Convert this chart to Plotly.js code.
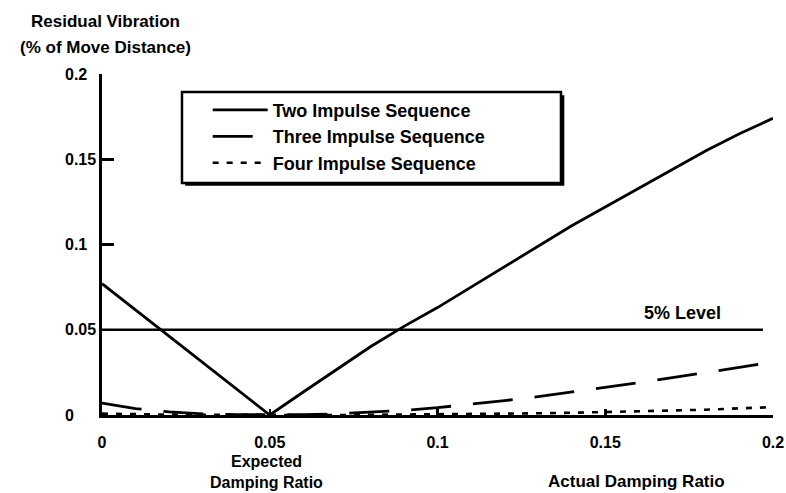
<!DOCTYPE html>
<html>
<head>
<meta charset="utf-8">
<script src="https://cdn.plot.ly/plotly-3.0.1.min.js"></script>
<style>
  html, body { margin: 0; padding: 0; background: #fff; }
  #chart { width: 786px; height: 493px; }
</style>
</head>
<body>
<div id="chart"></div>
<script>
// Actual damping ratio samples (x axis)
const dampingRatio = [0, 0.01, 0.02, 0.03, 0.04, 0.05, 0.06, 0.07, 0.08, 0.09, 0.10,
                      0.11, 0.12, 0.13, 0.14, 0.15, 0.16, 0.17, 0.18, 0.19, 0.20];

// Residual vibration (% of move distance) for each impulse sequence
const twoImpulse   = [0.077, 0.0616, 0.0462, 0.0308, 0.0154, 0, 0.0135, 0.027, 0.040, 0.052, 0.063,
                      0.075, 0.087, 0.099, 0.111, 0.122, 0.133, 0.144, 0.155, 0.165, 0.174];
const threeImpulse = [0.007, 0.0038, 0.0018, 0.0007, 0.0002, 0, 0.0002, 0.0007, 0.0015, 0.0027, 0.0043,
                      0.0062, 0.0084, 0.0108, 0.0134, 0.0161, 0.019, 0.0219, 0.0249, 0.028, 0.031];
const fourImpulse  = [0.0008, 0.0004, 0.0002, 0.0001, 0, 0, 0, 0, 0.0001, 0.0002, 0.0003,
                      0.0005, 0.0007, 0.001, 0.0013, 0.0017, 0.0021, 0.0026, 0.0031, 0.0039, 0.0046];

// 5% reference level
const levelX = [0, 0.197];
const levelY = [0.05, 0.05];

const seriesNames = ['Two Impulse Sequence', 'Three Impulse Sequence', 'Four Impulse Sequence'];

const xTickVals = [0, 0.05, 0.1, 0.15, 0.2];
const xTickText = ['0', '0.05', '0.1', '0.15', '0.2'];
const yTickVals = [0, 0.05, 0.1, 0.15, 0.2];
const yTickText = ['0', '0.05', '0.1', '0.15', '0.2'];

const ink = '#000';
const FONT = 'Liberation Sans, Arial, sans-serif';
const boldFont = (size) => ({ family: FONT, size: size, color: ink, weight: 'bold' });

const traces = [
  { x: dampingRatio, y: twoImpulse, name: seriesNames[0], mode: 'lines',
    line: { color: ink, width: 2.8 } },
  { x: dampingRatio, y: threeImpulse, name: seriesNames[1], mode: 'lines',
    line: { color: ink, width: 2.8, dash: '40px,22px' } },
  { x: dampingRatio, y: fourImpulse, name: seriesNames[2], mode: 'lines',
    line: { color: ink, width: 2.6, dash: '6px,8px' } },
  { x: levelX, y: levelY, mode: 'lines', showlegend: false, hoverinfo: 'skip',
    line: { color: ink, width: 2.6 } }
];

// left-aligned y tick labels
const yLabelAnnotations = yTickVals.map((v, i) => ({
  xref: 'paper', yref: 'y', x: -0.058, y: v, xanchor: 'left', yanchor: 'middle',
  text: yTickText[i], showarrow: false, font: boldFont(16)
}));

// stacked captions: [text, xref, x, paper y of line centre, size]
const captionLines = [
  ['Residual Vibration', 'paper', 0.0045, 1.1525, 17],
  ['(% of Move Distance)', 'paper', 0.0045, 1.079, 17],
  ['Expected', 'x', 0.049, -0.1378, 16],
  ['Damping Ratio', 'x', 0.049, -0.1965, 16],
  ['Actual Damping Ratio', 'paper', 0.797, -0.196, 17]
];
const captionAnnotations = captionLines.map(c => ({
  xref: c[1], yref: 'paper', x: c[2], y: c[3], xanchor: 'center', yanchor: 'middle',
  text: c[0], showarrow: false, font: boldFont(c[4])
}));

const layout = {
  width: 786, height: 493,
  margin: { l: 102, r: 13, t: 74, b: 78 },
  paper_bgcolor: '#fff', plot_bgcolor: '#fff',
  showlegend: true,
  xaxis: {
    range: [0, 0.2], showgrid: false, zeroline: false,
    showline: true, linecolor: ink, linewidth: 3,
    ticks: 'inside', ticklen: 6, tickwidth: 2.5, tickcolor: ink,
    tickvals: xTickVals, ticktext: xTickText,
    tickfont: boldFont(16), ticklabelstandoff: 11
  },
  yaxis: {
    range: [0, 0.2], showgrid: false, zeroline: false,
    showline: true, linecolor: ink, linewidth: 3,
    ticks: 'inside', ticklen: 12, tickwidth: 2.5, tickcolor: ink,
    tickvals: yTickVals, showticklabels: false
  },
  legend: {
    x: 0.1575, y: 0.948, xanchor: 'left', yanchor: 'top',
    bgcolor: 'rgba(0,0,0,0)', borderwidth: 0,
    itemwidth: 55, font: boldFont(18), tracegroupgap: 0
  },
  shapes: [
    // legend frame with drop shadow
    { type: 'rect', xref: 'paper', yref: 'paper', layer: 'below',
      x0: 0.124, x1: 0.689, y0: 0.672, y1: 0.938,
      fillcolor: ink, line: { width: 0 } },
    { type: 'rect', xref: 'paper', yref: 'paper', layer: 'below',
      x0: 0.1192, x1: 0.684, y0: 0.68, y1: 0.947,
      fillcolor: '#fff', line: { color: ink, width: 2.5 } }
  ],
  annotations: yLabelAnnotations.concat(captionAnnotations, [
    { xref: 'x', yref: 'y', x: 0.173, y: 0.06, text: '5% Level', showarrow: false,
      font: boldFont(18) }
  ])
};

Plotly.newPlot('chart', traces, layout, { displayModeBar: false, staticPlot: true });
</script>
</body>
</html>
